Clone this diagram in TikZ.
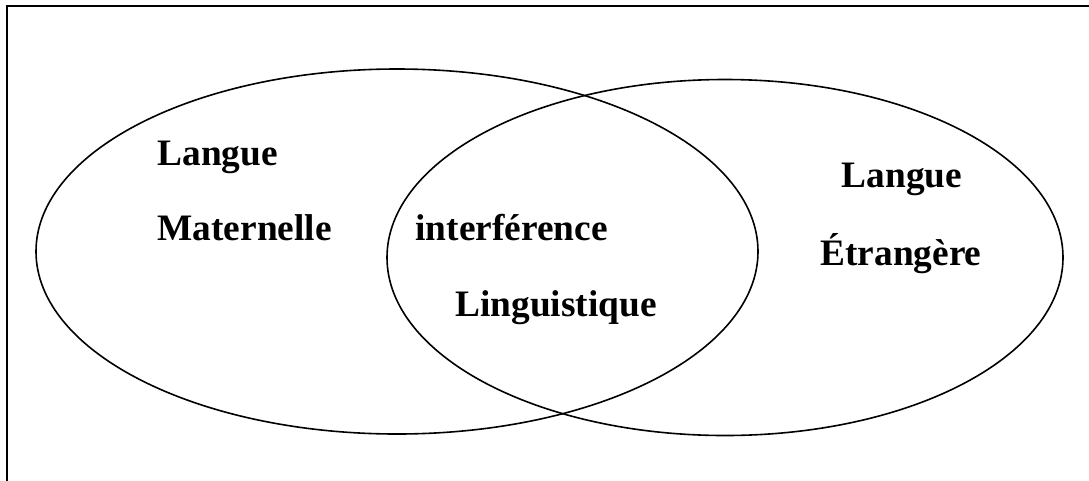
\documentclass[tikz,border=0pt]{standalone}
\usepackage{fontspec}
\setmainfont{Liberation Serif}
\begin{document}
\begin{tikzpicture}[x=0.375pt,y=-0.375pt,
	lbl/.style={font=\fontsize{14}{17}\selectfont\bfseries, inner sep=0pt}]
		\useasboundingbox (0,0) rectangle (1089,480);
		\clip (0,0) rectangle (1089,480);
		\draw[line width=.8pt] (7,6) rectangle (1120,520);
		\draw[line width=.6pt] (397,251.5) ellipse [x radius=361, y radius=182.5];
		\draw[line width=.6pt] (725,257.5) ellipse [x radius=338, y radius=178];
		\node[lbl, anchor=base west] (lm1) at (157,165) {Langue};
		\node[lbl, anchor=base west] (lm2) at (157,240) {Maternelle};
		\node[lbl, anchor=base west] (il1) at (415,240) {interférence};
		\node[lbl, anchor=base west] (il2) at (455,316) {Linguistique};
		\node[lbl, anchor=base] (le1) at (902,187) {Langue};
		\node[lbl, anchor=base] (le2) at (901,265) {Étrangère};
	\end{tikzpicture}
\end{document}
